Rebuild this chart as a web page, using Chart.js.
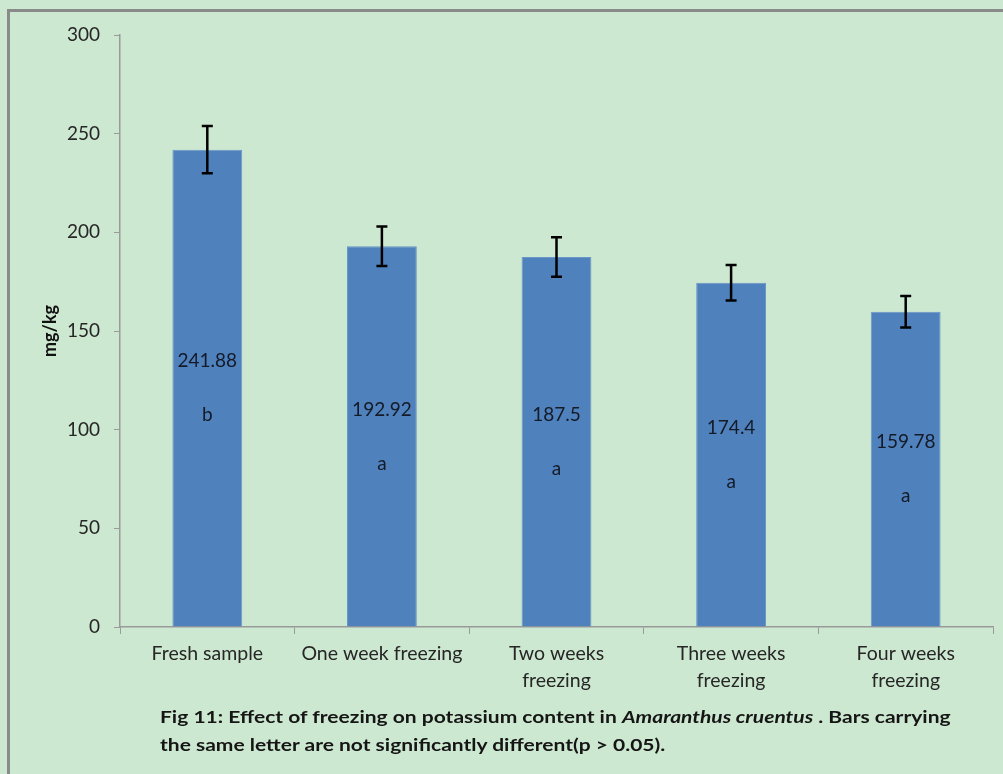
<!DOCTYPE html>
<html>
<head>
<meta charset="utf-8">
<script src="https://cdn.jsdelivr.net/npm/chart.js@4"></script>
<style>
  html, body { margin: 0; padding: 0; overflow: hidden; background: #cde8d0; }
  #page {
    width: 1003px; height: 774px; overflow: hidden; position: relative;
    background: #cde8d0;
    font-family: Lato, "Noto Sans", "DejaVu Sans", sans-serif;
  }
  #frame {
    position: absolute; left: 7px; top: 9px; width: 1100px; height: 900px;
    border-top: 3px solid #8a8a8a; border-left: 3px solid #8a8a8a;
  }
  #chart { position: absolute; left: 0; top: 0; }
  #caption {
    position: absolute; left: 160px; top: 703px;
    font-weight: bold; font-size: 17.5px; line-height: 28px; color: #151515;
    white-space: nowrap;
    transform: scaleX(1.2); transform-origin: 0 0;
  }
</style>
</head>
<body>
<div id="page">
<div id="frame"></div>
<canvas id="chart" width="1003" height="774"></canvas>
<div id="caption">Fig 11: Effect of freezing on potassium content in <i>Amaranthus cruentus</i> . Bars carrying<br>the same letter are not significantly different(p &gt; 0.05).</div>
</div>
<script>
// Potassium content (mg/kg) of Amaranthus cruentus leaves over frozen storage
const categories = [
  'Fresh sample',
  'One week freezing',
  ['Two weeks', 'freezing'],
  ['Three weeks', 'freezing'],
  ['Four weeks', 'freezing']
];
const potassium = [241.88, 192.92, 187.5, 174.4, 159.78];
const errorMargin = [12, 10, 10, 9, 8];
const groupLetters = ['b', 'a', 'a', 'a', 'a'];
const yMin = 0, yMax = 300, yStep = 50;

const FONT = 'Lato, "Noto Sans", "DejaVu Sans", sans-serif';

// Error bars plus the value / significance letter printed inside each bar
const barAnnotations = {
  id: 'barAnnotations',
  afterDatasetsDraw(chart) {
    const { ctx, scales: { y } } = chart;
    const meta = chart.getDatasetMeta(0);
    ctx.save();
    meta.data.forEach((bar, i) => {
      const v = potassium[i], e = errorMargin[i];
      const yTop = y.getPixelForValue(v + e);
      const yBot = y.getPixelForValue(v - e);
      const cap = 5.5;
      ctx.strokeStyle = '#000';
      ctx.lineWidth = 2.5;
      ctx.beginPath();
      ctx.moveTo(bar.x, yTop); ctx.lineTo(bar.x, yBot);
      ctx.moveTo(bar.x - cap, yTop); ctx.lineTo(bar.x + cap, yTop);
      ctx.moveTo(bar.x - cap, yBot); ctx.lineTo(bar.x + cap, yBot);
      ctx.stroke();

      const mid = (bar.y + bar.base) / 2;
      ctx.fillStyle = '#141a26';
      ctx.font = '19px ' + FONT;
      ctx.textAlign = 'center';
      ctx.textBaseline = 'middle';
      ctx.fillText(String(v), bar.x, mid - 27);
      ctx.fillText(groupLetters[i], bar.x, mid + 27);
    });
    ctx.restore();
  }
};

new Chart(document.getElementById('chart'), {
  type: 'bar',
  data: {
    labels: categories,
    datasets: [{
      data: potassium,
      backgroundColor: '#4f81bd',
      borderColor: '#6b96c9',
      borderWidth: 1,
      barPercentage: 0.4,
      categoryPercentage: 1.0
    }]
  },
  options: {
    responsive: false,
    animation: false,
    layout: { padding: { left: 0, top: 35, right: 10, bottom: 0 } },
    plugins: { legend: { display: false }, tooltip: { enabled: false } },
    scales: {
      x: {
        afterFit(s) { s.height = 147; },
        grid: { display: true, drawOnChartArea: false, drawTicks: true, tickLength: 7, color: '#9a9a9a', offset: true },
        border: { display: true, color: '#9a9a9a', width: 1.5 },
        ticks: {
          color: '#262626', padding: 7,
          font: { family: FONT, size: 19.5, lineHeight: 1.35 },
          maxRotation: 0, autoSkip: false
        }
      },
      y: {
        min: yMin, max: yMax,
        afterFit(s) { s.width = 120; },
        grid: { display: true, drawOnChartArea: false, drawTicks: true, tickLength: 6, color: '#9a9a9a' },
        border: { display: true, color: '#9a9a9a', width: 1.5 },
        ticks: {
          stepSize: yStep, color: '#262626', padding: 14,
          font: { family: FONT, size: 19 }
        },
        title: {
          display: true, text: 'mg/kg', color: '#111',
          font: { family: FONT, size: 18, weight: 'bold' },
          padding: { top: 39, bottom: 0 }
        }
      }
    }
  },
  plugins: [barAnnotations]
});
</script>
</body>
</html>
